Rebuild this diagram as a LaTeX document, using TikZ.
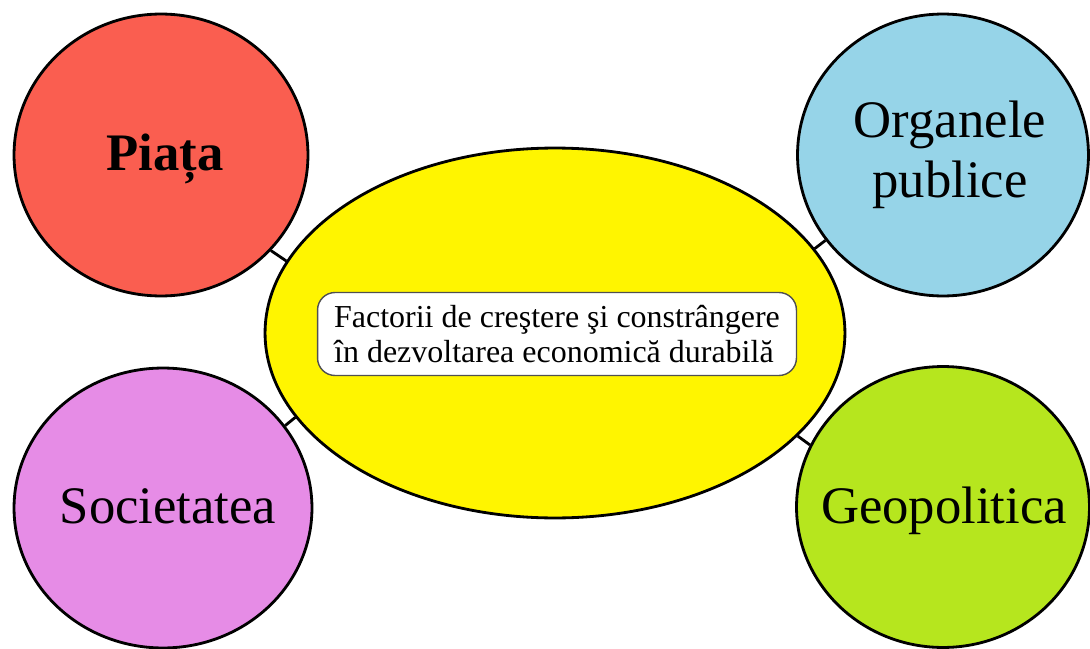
\documentclass[tikz,border=0pt]{standalone}
\usepackage{fontspec}
\setmainfont{Liberation Serif}
\usetikzlibrary{shapes.geometric}
\definecolor{cred}{RGB}{250,94,80}
\definecolor{ccyan}{RGB}{150,212,232}
\definecolor{cpurple}{RGB}{230,140,230}
\definecolor{cgreen}{RGB}{182,230,30}
\definecolor{cyel}{RGB}{255,245,0}
\definecolor{cbox}{RGB}{80,80,80}
\begin{document}
\begin{tikzpicture}[x=0.02cm,y=-0.02cm,
  bubble/.style={ellipse, draw=black, line width=1.6pt, inner sep=0pt},
  bubtext/.style={font=\fontsize{30}{34}\selectfont, align=center, text=black, inner sep=0pt},
  link/.style={line width=1.6pt, draw=black}]
\useasboundingbox (0,0) rectangle (1090,649);
\fill[white] (0,0) rectangle (1090,649);
\node[bubble, fill=cred, minimum width=5.88cm, minimum height=5.64cm] (piata) at (161,155) {};
\node[bubble, fill=ccyan, minimum width=5.82cm, minimum height=5.64cm] (organe) at (943,155) {};
\node[bubble, fill=cpurple, minimum width=5.96cm, minimum height=5.6cm] (soc) at (163,508) {};
\node[bubble, fill=cgreen, minimum width=5.86cm, minimum height=5.62cm] (geo) at (943,507) {};
\node[bubtext, anchor=base] (tpiata) at (165,170) {\textbf{Piața}};
\node[bubtext] (torgane) at (950,155) {Organele\\publice};
\node[bubtext, anchor=base] (tsoc) at (168,523) {Societatea};
\node[bubtext, anchor=base] (tgeo) at (944,523) {Geopolitica};
\node[ellipse, draw=black, fill=cyel, line width=1.6pt, minimum width=11.6cm, minimum height=7.4cm] (core) at (555,333) {};
\node[draw=cbox, fill=white, rounded corners=0.35cm, line width=0.8pt,
  minimum width=9.58cm, minimum height=1.66cm, inner sep=2pt,
  font=\fontsize{18.2}{19.5}\selectfont, align=left] (title) at (557,334)
  {Factorii de creştere şi constrângere\\în dezvoltarea economică durabilă};
\draw[link] (piata.-41) -- (core.165);
\draw[link] (organe.-144) -- (core.18);
\draw[link] (soc.34) -- (core.198);
\draw[link] (geo.155) -- (core.-23);
\end{tikzpicture}
\end{document}
